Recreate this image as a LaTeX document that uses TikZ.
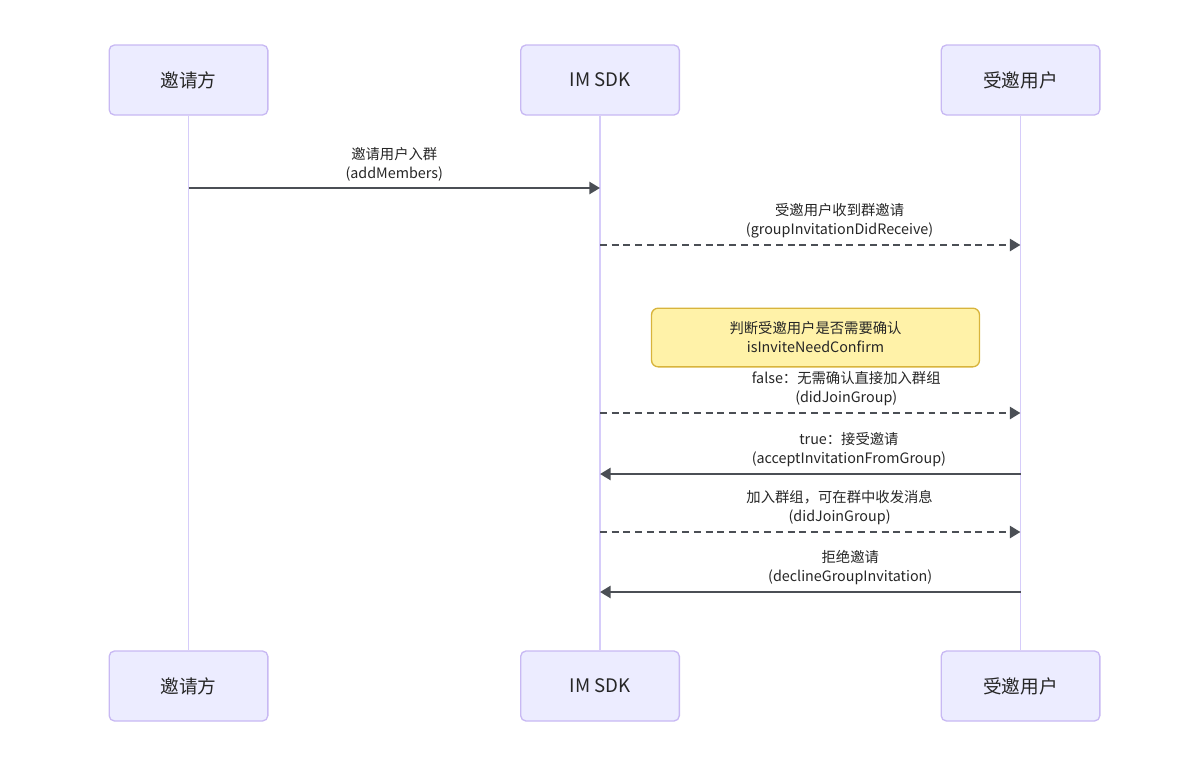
\documentclass[tikz,border=0pt]{standalone}
\usepackage{fontspec}
\setmainfont{Noto Sans CJK SC}
\usetikzlibrary{arrows.meta, positioning}
\definecolor{actorfill}{HTML}{ECECFF}
\definecolor{actorline}{HTML}{C8B9F3}
\definecolor{lifeline}{HTML}{D6CCFA}
\definecolor{msggray}{HTML}{4B4F55}
\definecolor{notefill}{HTML}{FFF2A8}
\definecolor{noteline}{HTML}{D8B43C}

\begin{document}
\begin{tikzpicture}[
    x=0.75pt, y=-0.75pt,
    actor/.style={draw=actorline, fill=actorfill, line width=1pt, rounded corners=4pt, minimum width=119pt, minimum height=52.5pt, font=\fontsize{14}{16}\selectfont, text=black!85},
    life/.style={draw=lifeline, line width=1.4pt},
    msg/.style={draw=msggray, line width=2.2pt, -{Triangle[length=8pt, width=9pt]}},
    reply/.style={msg, dash pattern=on 5.2pt off 3.6pt},
    note/.style={draw=noteline, fill=notefill, line width=1pt, rounded corners=5pt, minimum width=246pt, minimum height=44pt, align=center, font=\fontsize{10.75}{14.25}\selectfont, text=black!85},
    label/.style={font=\fontsize{10.75}{14.25}\selectfont, align=center, text=black!85, above=0.8pt},
]
\useasboundingbox (0,0) rectangle (1200,765);

% participants
\node[actor] (inv) at (188.5,80) {邀请方};
\node[actor] (sdk) at (600,80) {IM SDK};
\node[actor] (usr) at (1020.5,80) {受邀用户};
\node[actor] (invB) at (188.5,686) {邀请方};
\node[actor] (sdkB) at (600,686) {IM SDK};
\node[actor] (usrB) at (1020.5,686) {受邀用户};

\draw[life] (inv) -- (invB);
\draw[life] (sdk) -- (sdkB);
\draw[life] (usr) -- (usrB);

% message rows on the lifelines
\foreach \n/\y in {1/188, 2/245, 3/413, 4/474, 5/532, 6/592} {
    \coordinate (i\n) at (188.5,\y);
    \coordinate (s\n) at (600,\y);
    \coordinate (u\n) at (1020.5,\y);
}

\draw[msg] (i1) -- node[label]{邀请用户入群\\(addMembers)} (s1);
\draw[reply] (s2) -- node[label, xshift=22pt]{受邀用户收到群邀请\\(groupInvitationDidReceive)} (u2);

\node[note] (check) at (815.5,337.5) {判断受邀用户是否需要确认\\isInviteNeedConfirm};

\draw[reply] (s3) -- node[label, xshift=27pt]{false：无需确认直接加入群组\\(didJoinGroup)} (u3);
\draw[msg] (u4) -- node[label, xshift=29pt]{true：接受邀请\\(acceptInvitationFromGroup)} (s4);
\draw[reply] (s5) -- node[label, xshift=22pt]{加入群组，可在群中收发消息\\(didJoinGroup)} (u5);
\draw[msg] (u6) -- node[label, xshift=30pt]{拒绝邀请\\(declineGroupInvitation)} (s6);
\end{tikzpicture}
\end{document}
